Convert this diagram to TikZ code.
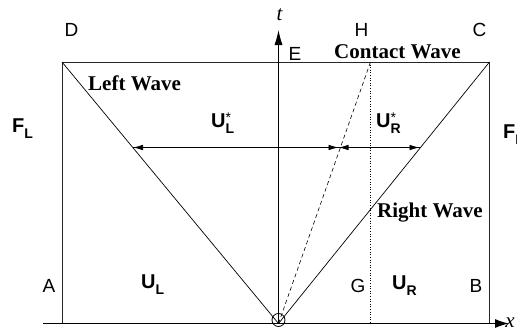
\documentclass[tikz,border=0pt]{standalone}
\usepackage{fontspec}
\setmainfont{Liberation Serif}
\setsansfont{Liberation Sans}
\usetikzlibrary{arrows.meta}
\newcommand\subsz{\fontsize{14}{14}\selectfont}
\newcommand\Ustar[1]{\textbf{U}\rlap{\raisebox{5pt}{\subsz *}}\raisebox{-6pt}{\subsz\bfseries #1}}
\newcommand\Usb[2]{\textbf{#1}\raisebox{-6pt}{\subsz\bfseries #2}}
\tikzset{
  frame/.style={line width=1pt, draw=black!85},
  wave/.style={line width=0.7pt},
  lbl/.style={font=\sffamily\fontsize{19}{19}\selectfont, inner sep=0pt, anchor=base west},
  state/.style={font=\sffamily\fontsize{20}{20}\selectfont, inner sep=0pt, anchor=base west},
  wname/.style={font=\rmfamily\bfseries\fontsize{21}{21}\selectfont, inner sep=0pt, anchor=base west},
  tip/.style={-{Latex[length=10pt,width=5.5pt]}},
}
\begin{document}
\begin{tikzpicture}[x=1pt,y=-1pt]
\useasboundingbox (0,0) rectangle (517,332);
% corners and points
\coordinate (D) at (62,62);
\coordinate (C) at (489.5,62);
\coordinate (A) at (62,323.5);
\coordinate (B) at (489.5,323.5);
\coordinate (O) at (278.5,323.5);
\coordinate (Oc) at (278.5,320);
\coordinate (H) at (370.5,62);
\coordinate (G) at (370.5,323.5);
\coordinate (Xs) at (43,323.5);
\coordinate (Xe) at (509,323.5);
\coordinate (Te) at (278.5,30);
\coordinate (PL) at (133,147.5);
\coordinate (PC) at (338.5,147.5);
\coordinate (PR) at (419.5,147.5);
% frame
\draw[frame] (A) -- (D) -- (C) -- (B);
% axes
\draw[line width=1.3pt, -{Latex[length=14pt,width=9pt]}] (Xs) -- (Xe);
\draw[line width=0.8pt, -{Latex[length=15pt,width=8pt]}] (O) -- (Te);
% waves
\draw[wave] (D) -- (O);
\draw[wave] (O) -- (C);
\draw[line width=0.6pt, dash pattern=on 4pt off 3pt] (O) -- (H);
\draw[line width=0.6pt, dotted] (H) -- (G);
\draw[line width=0.8pt] (Oc) circle (6.5);
% star-region arrows
\draw[wave, tip] (PC) -- (PL);
\draw[wave, tip] (PL) -- (PC);
\draw[wave, tip] (PC) -- (PR);
\draw[wave, tip] (PR) -- (PC);
% letters
\node[lbl] (lD) at (64.5,36) {D};
\node[lbl] (lC) at (472.5,36) {C};
\node[lbl] (lH) at (354.5,36) {H};
\node[lbl] (lE) at (288.5,60) {E};
\node[lbl] (lA) at (42.5,292) {A};
\node[lbl] (lG) at (350.5,292) {G};
\node[lbl] (lB) at (469.5,292) {B};
\node[font=\rmfamily\itshape\fontsize{21}{21}\selectfont, inner sep=0pt, anchor=base] (lt) at (279.5,20) {t};
\node[font=\rmfamily\itshape\fontsize{21}{21}\selectfont, inner sep=0pt, anchor=base] (lx) at (510,327) {x};
% states
\node[state] (FL) at (12,132) {\Usb{F}{L}};
\node[state] (FR) at (503,138) {\Usb{F}{R}};
\node[state] (ULs) at (211,127) {\Ustar{L}};
\node[state] (URs) at (376,127) {\Ustar{R}};
\node[state] (UL) at (141,288) {\Usb{U}{L}};
\node[state] (UR) at (392,289) {\Usb{U}{R}};
% wave names
\node[wname] (LW) at (88,90) {Left Wave};
\node[wname] (CW) at (334,58) {Contact Wave};
\node[wname] (RW) at (377,217) {Right Wave};
\end{tikzpicture}
\end{document}
